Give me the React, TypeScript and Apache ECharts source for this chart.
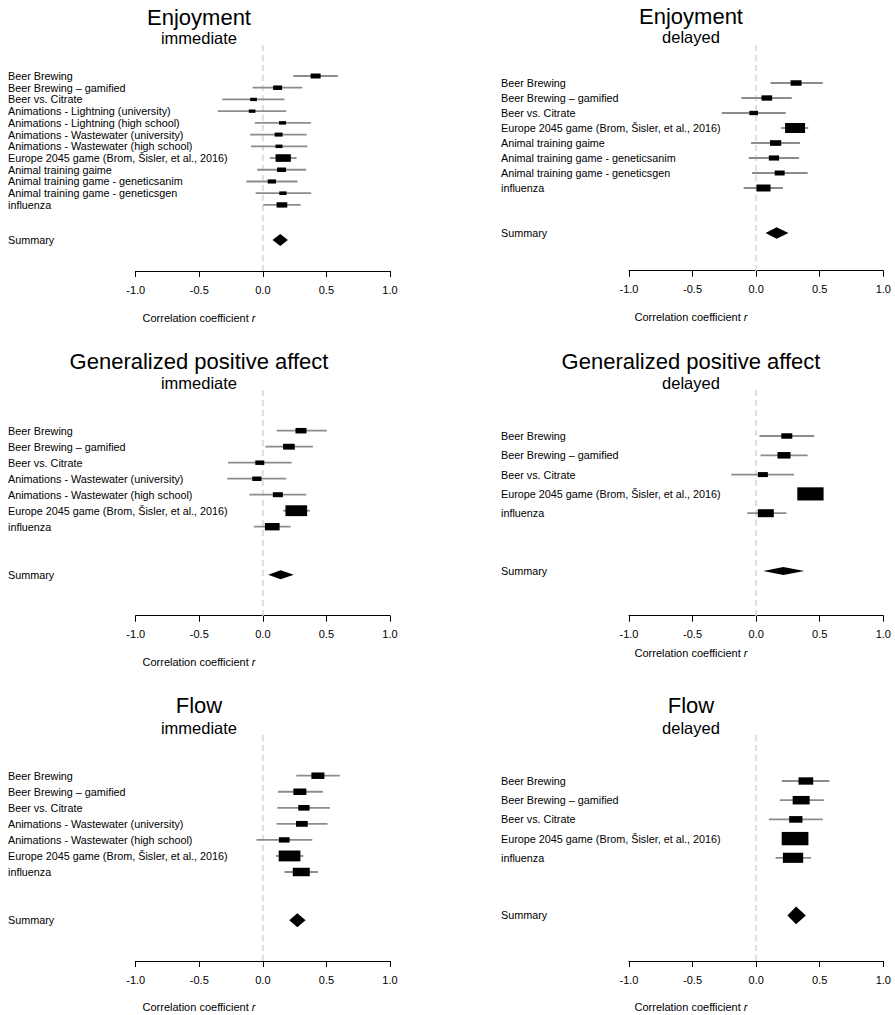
import React, { useEffect, useRef } from "react";
import * as echarts from "echarts";

const FONT = "Arial, 'Liberation Sans', Helvetica, sans-serif";

// ---------- DATA ----------
const tickValues = [-1.0, -0.5, 0.0, 0.5, 1.0];

const studiesEnjoyImm = [
  "Beer Brewing",
  "Beer Brewing – gamified",
  "Beer vs. Citrate",
  "Animations - Lightning (university)",
  "Animations - Lightning (high school)",
  "Animations - Wastewater (university)",
  "Animations - Wastewater (high school)",
  "Europe 2045 game (Brom, Šisler, et al., 2016)",
  "Animal training gaime",
  "Animal training game - geneticsanim",
  "Animal training game - geneticsgen",
  "influenza",
];
const estEnjoyImm = [0.415, 0.116, -0.073, -0.084, 0.155, 0.124, 0.127, 0.16, 0.147, 0.071, 0.158, 0.15];
const loEnjoyImm = [0.24, -0.08, -0.32, -0.354, -0.063, -0.1, -0.094, 0.055, -0.044, -0.13, -0.057, 0.003];
const hiEnjoyImm = [0.59, 0.31, 0.17, 0.184, 0.378, 0.344, 0.35, 0.265, 0.34, 0.273, 0.38, 0.297];
const wEnjoyImm = [10, 9, 6.7, 6.7, 7, 8, 7, 15.3, 9, 8.3, 7.3, 10.7];
const sumEnjoyImm = [0.137, 0.076, 0.197];

const studiesEnjoyDel = [
  "Beer Brewing",
  "Beer Brewing – gamified",
  "Beer vs. Citrate",
  "Europe 2045 game (Brom, Šisler, et al., 2016)",
  "Animal training gaime",
  "Animal training game - geneticsanim",
  "Animal training game - geneticsgen",
  "influenza",
];
const estEnjoyDel = [0.314, 0.084, -0.019, 0.306, 0.153, 0.14, 0.185, 0.058];
const loEnjoyDel = [0.113, -0.117, -0.27, 0.195, -0.04, -0.059, -0.032, -0.098];
const hiEnjoyDel = [0.524, 0.28, 0.233, 0.41, 0.344, 0.338, 0.405, 0.211];
const wEnjoyDel = [11, 10.7, 8.7, 20, 11.3, 10.3, 10, 14];
const sumEnjoyDel = [0.161, 0.074, 0.254];

const studiesGpaImm = [
  "Beer Brewing",
  "Beer Brewing – gamified",
  "Beer vs. Citrate",
  "Animations - Wastewater (university)",
  "Animations - Wastewater (high school)",
  "Europe 2045 game (Brom, Šisler, et al., 2016)",
  "influenza",
];
const estGpaImm = [0.3, 0.205, -0.024, -0.047, 0.118, 0.263, 0.074];
const loGpaImm = [0.108, 0.021, -0.274, -0.28, -0.105, 0.16, -0.071];
const hiGpaImm = [0.502, 0.394, 0.226, 0.184, 0.342, 0.37, 0.218];
const wGpaImm = [11, 11.7, 9, 9.3, 10, 21.7, 14.7];
const sumGpaImm = [0.139, 0.042, 0.244];

const studiesGpaDel = [
  "Beer Brewing",
  "Beer Brewing – gamified",
  "Beer vs. Citrate",
  "Europe 2045 game (Brom, Šisler, et al., 2016)",
  "influenza",
];
const estGpaDel = [0.241, 0.219, 0.053, 0.427, 0.076];
const loGpaDel = [0.026, 0.034, -0.196, 0.34, -0.071];
const hiGpaDel = [0.457, 0.405, 0.298, 0.51, 0.238];
const wGpaDel = [11, 13, 10, 26.3, 16];
const sumGpaDel = [0.214, 0.056, 0.378];

const studiesFlowImm = [
  "Beer Brewing",
  "Beer Brewing – gamified",
  "Beer vs. Citrate",
  "Animations - Wastewater (university)",
  "Animations - Wastewater (high school)",
  "Europe 2045 game (Brom, Šisler, et al., 2016)",
  "influenza",
];
const estFlowImm = [0.433, 0.291, 0.323, 0.307, 0.168, 0.21, 0.302];
const loFlowImm = [0.263, 0.118, 0.113, 0.108, -0.05, 0.103, 0.171];
const hiFlowImm = [0.606, 0.472, 0.528, 0.509, 0.389, 0.318, 0.433];
const wFlowImm = [13, 13, 11.3, 11.7, 10.7, 21.7, 17];
const sumFlowImm = [0.271, 0.208, 0.336];

const studiesFlowDel = [
  "Beer Brewing",
  "Beer Brewing – gamified",
  "Beer vs. Citrate",
  "Europe 2045 game (Brom, Šisler, et al., 2016)",
  "influenza",
];
const estFlowDel = [0.391, 0.354, 0.312, 0.306, 0.29];
const loFlowDel = [0.201, 0.185, 0.1, 0.22, 0.153];
const hiFlowDel = [0.576, 0.532, 0.524, 0.39, 0.431];
const wFlowDel = [14.7, 17, 13.3, 26.7, 20.3];
const sumFlowDel = [0.314, 0.246, 0.391];

// ---------- LAYOUT ----------
type Layout = {
  axL: number; axR: number; axY: number; dashTop: number;
  row0: number; step: number; labelX: number; cx: number;
  titleY: number; subY: number; xlabY: number; diaH: number;
};

const L_LEFT = { axL: 135.7, axR: 390 };
const L_RIGHT = { axL: 629, axR: 883.3 };

const panels = [
  {
    title: "Enjoyment", sub: "immediate",
    labels: studiesEnjoyImm, est: estEnjoyImm, lo: loEnjoyImm, hi: hiEnjoyImm, w: wEnjoyImm, sum: sumEnjoyImm,
    L: { ...L_LEFT, axY: 271, dashTop: 45, row0: 76, step: 11.72, labelX: 8, cx: 199, titleY: 17, subY: 38, xlabY: 318, diaH: 12 } as Layout,
  },
  {
    title: "Enjoyment", sub: "delayed",
    labels: studiesEnjoyDel, est: estEnjoyDel, lo: loEnjoyDel, hi: hiEnjoyDel, w: wEnjoyDel, sum: sumEnjoyDel,
    L: { ...L_RIGHT, axY: 270.7, dashTop: 45, row0: 83, step: 15, labelX: 501, cx: 691, titleY: 16, subY: 37, xlabY: 317, diaH: 11.7 } as Layout,
  },
  {
    title: "Generalized positive affect", sub: "immediate",
    labels: studiesGpaImm, est: estGpaImm, lo: loGpaImm, hi: hiGpaImm, w: wGpaImm, sum: sumGpaImm,
    L: { ...L_LEFT, axY: 615.7, dashTop: 390, row0: 430.7, step: 16, labelX: 8, cx: 199, titleY: 361, subY: 383, xlabY: 662, diaH: 9 } as Layout,
  },
  {
    title: "Generalized positive affect", sub: "delayed",
    labels: studiesGpaDel, est: estGpaDel, lo: loGpaDel, hi: hiGpaDel, w: wGpaDel, sum: sumGpaDel,
    L: { ...L_RIGHT, axY: 615.7, dashTop: 390, row0: 436, step: 19.3, labelX: 501, cx: 691, titleY: 361, subY: 383, xlabY: 653, diaH: 8 } as Layout,
  },
  {
    title: "Flow", sub: "immediate",
    labels: studiesFlowImm, est: estFlowImm, lo: loFlowImm, hi: hiFlowImm, w: wFlowImm, sum: sumFlowImm,
    L: { ...L_LEFT, axY: 961, dashTop: 735, row0: 775.7, step: 16.05, labelX: 8, cx: 199, titleY: 705, subY: 728, xlabY: 1007, diaH: 14 } as Layout,
  },
  {
    title: "Flow", sub: "delayed",
    labels: studiesFlowDel, est: estFlowDel, lo: loFlowDel, hi: hiFlowDel, w: wFlowDel, sum: sumFlowDel,
    L: { ...L_RIGHT, axY: 961, dashTop: 735, row0: 781, step: 19.2, labelX: 501, cx: 691, titleY: 705, subY: 728, xlabY: 1007, diaH: 17.7 } as Layout,
  },
];

function buildOption() {
  const grid: any[] = [];
  const xAxis: any[] = [];
  const yAxis: any[] = [];
  const series: any[] = [];
  const graphic: any[] = [];

  panels.forEach((p, k) => {
    const L = p.L;
    const yMin = (L.dashTop - L.row0) / L.step;
    const yMax = (L.axY - L.row0) / L.step;
    const n = p.labels.length;
    const sumIdx = n + 2;

    grid.push({ left: L.axL, top: L.dashTop, width: L.axR - L.axL, height: L.axY - L.dashTop, containLabel: false });
    xAxis.push({
      type: "value", gridIndex: k, min: tickValues[0], max: tickValues[tickValues.length - 1], interval: 0.5,
      axisLine: { show: true, onZero: false, lineStyle: { color: "#000", width: 1 } },
      axisTick: { show: true, length: 6, lineStyle: { color: "#000", width: 1 } },
      axisLabel: { show: true, showMinLabel: true, showMaxLabel: true, margin: 13, color: "#000", fontSize: 11, fontFamily: FONT, formatter: (v: number) => v.toFixed(1) },
      splitLine: { show: false },
    });
    yAxis.push({ type: "value", gridIndex: k, inverse: true, min: yMin, max: yMax, show: false });

    // zero reference (dashed)
    series.push({
      type: "custom", xAxisIndex: k, yAxisIndex: k, z: 1, silent: true,
      data: [[0, yMin, yMax]],
      encode: { x: 0, y: [1, 2] },
      renderItem: (params: any, api: any) => {
        const a = api.coord([api.value(0), api.value(1)]);
        const b = api.coord([api.value(0), api.value(2)]);
        return {
          type: "line",
          shape: { x1: a[0], y1: a[1], x2: b[0], y2: b[1] },
          style: { stroke: "#dddddd", lineWidth: 2, lineDash: [6, 4] },
        };
      },
    });

    // study CIs + boxes
    series.push({
      type: "custom", xAxisIndex: k, yAxisIndex: k, z: 3, silent: true,
      data: p.est.map((e, i) => [i, e, p.lo[i], p.hi[i], p.w[i]]),
      encode: { x: [1, 2, 3], y: 0 },
      renderItem: (params: any, api: any) => {
        const i = api.value(0);
        const pe = api.coord([api.value(1), i]);
        const pl = api.coord([api.value(2), i]);
        const ph = api.coord([api.value(3), i]);
        const bw = api.value(4);
        const bh = bw * 0.5;
        return {
          type: "group",
          children: [
            { type: "line", shape: { x1: pl[0], y1: pl[1], x2: ph[0], y2: ph[1] }, style: { stroke: "#8c8c8c", lineWidth: 1.8 } },
            { type: "rect", shape: { x: pe[0] - bw / 2, y: pe[1] - bh / 2, width: bw, height: bh }, style: { fill: "#000" } },
          ],
        };
      },
    });

    // summary diamond
    series.push({
      type: "custom", xAxisIndex: k, yAxisIndex: k, z: 3, silent: true,
      data: [[sumIdx, p.sum[0], p.sum[1], p.sum[2]]],
      encode: { x: [1, 2, 3], y: 0 },
      renderItem: (params: any, api: any) => {
        const i = api.value(0);
        const pe = api.coord([api.value(1), i]);
        const pl = api.coord([api.value(2), i]);
        const ph = api.coord([api.value(3), i]);
        const h = L.diaH / 2;
        return {
          type: "polygon",
          shape: { points: [[pl[0], pl[1]], [pe[0], pe[1] - h], [ph[0], ph[1]], [pe[0], pe[1] + h]] },
          style: { fill: "#000" },
        };
      },
    });

    // row labels
    const rowLabels = p.labels.map((t, i) => [i, t]).concat([[sumIdx, "Summary"]]);
    series.push({
      type: "custom", xAxisIndex: k, yAxisIndex: k, z: 4, silent: true, clip: false,
      data: rowLabels.map((r) => [0, r[0]]),
      encode: { x: 0, y: 1 },
      renderItem: (params: any, api: any) => {
        const y = api.coord([0, api.value(1)])[1];
        return {
          type: "text",
          x: L.labelX, y,
          style: {
            text: rowLabels[params.dataIndex][1] as string,
            fill: "#000", font: `10.8px ${FONT}`,
            textAlign: "left", textVerticalAlign: "middle",
            align: "left", verticalAlign: "middle",
          },
        };
      },
    });

    // titles
    graphic.push({
      type: "text", x: L.cx, y: L.titleY,
      style: { text: p.title, fill: "#000", font: `22px ${FONT}`, textAlign: "center", textVerticalAlign: "middle" },
    });
    graphic.push({
      type: "text", x: L.cx, y: L.subY,
      style: { text: p.sub, fill: "#000", font: `16.5px ${FONT}`, textAlign: "center", textVerticalAlign: "middle" },
    });
    graphic.push({
      type: "text", x: L.cx, y: L.xlabY,
      style: {
        text: "{a|Correlation coefficient }{b|r}",
        textAlign: "center", textVerticalAlign: "middle",
        rich: {
          a: { fill: "#000", fontSize: 11, fontFamily: FONT },
          b: { fill: "#000", fontSize: 11, fontFamily: FONT, fontStyle: "italic" },
        },
      },
    });
  });

  return {
    animation: false,
    backgroundColor: "#ffffff",
    grid, xAxis, yAxis, series, graphic,
  };
}

export default function App() {
  const ref = useRef<HTMLDivElement>(null);
  useEffect(() => {
    if (!ref.current) return;
    const chart = echarts.init(ref.current, null, { renderer: "svg" });
    chart.setOption(buildOption() as any);
    return () => chart.dispose();
  }, []);
  return (
    <div
      ref={ref}
      style={{ position: "absolute", left: 0, top: 0, width: 895, height: 1015, background: "#fff" }}
    />
  );
}
